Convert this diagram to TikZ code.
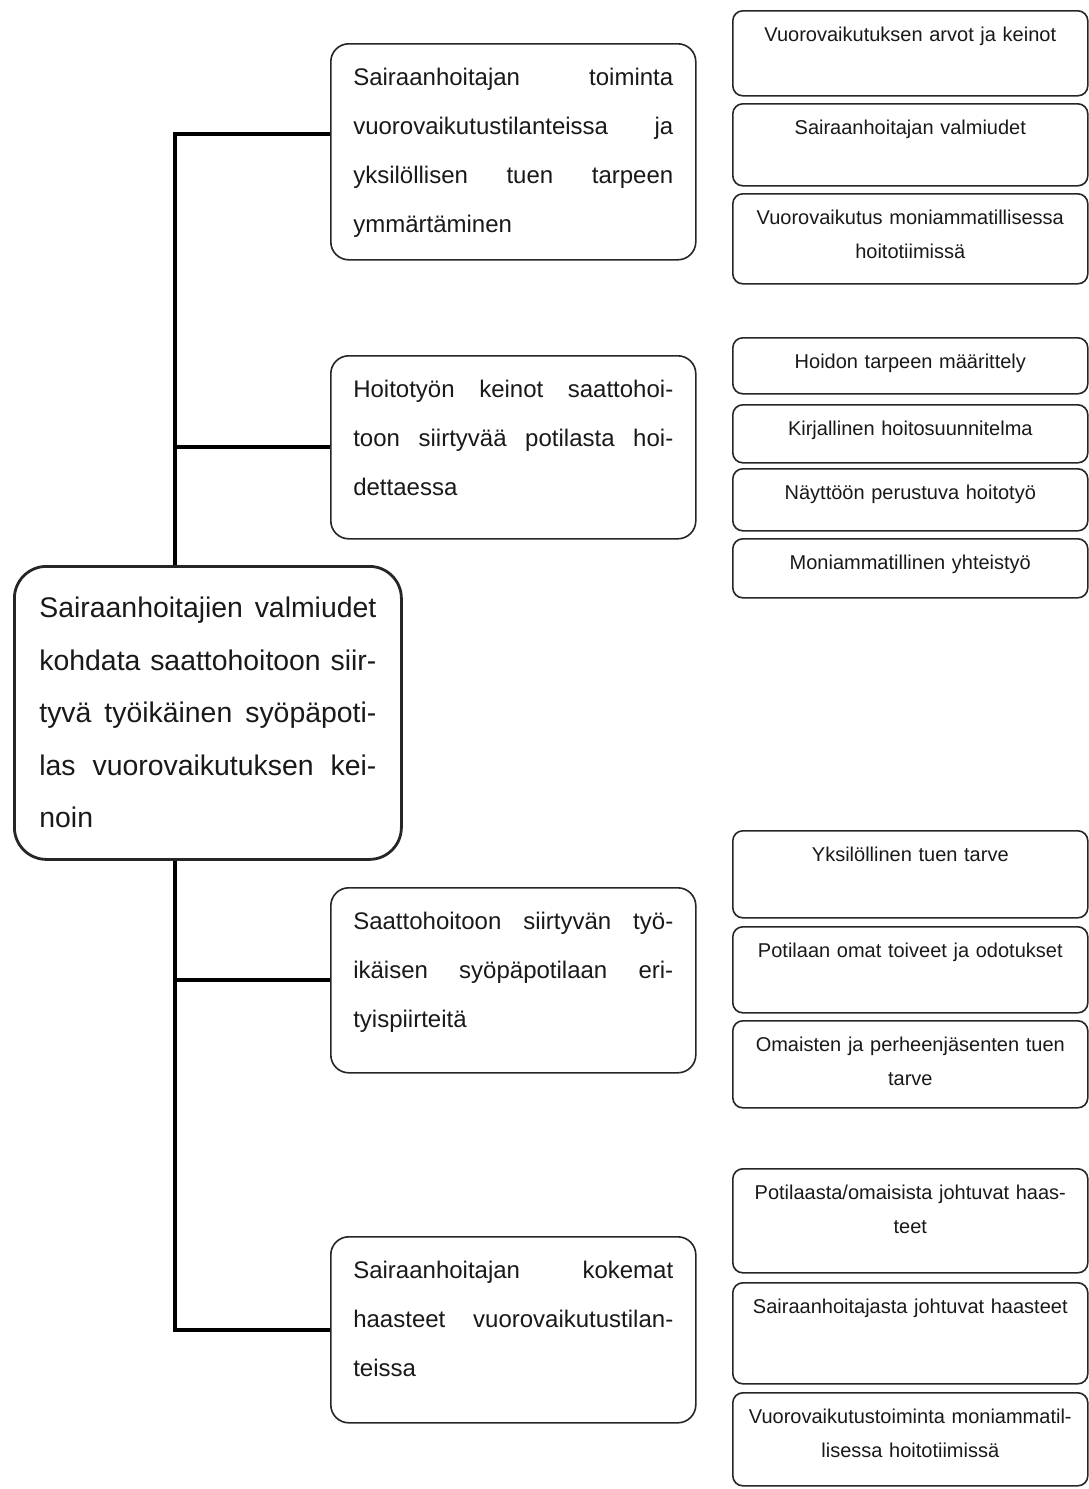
\documentclass[tikz,border=0pt]{standalone}
\usepackage{fontspec}
\setmainfont{Liberation Sans}
\usetikzlibrary{positioning}

\tikzset{
  box/.style={draw=black!85, line width=0.8pt, fill=white, inner sep=0pt, anchor=north west},
  mainbox/.style={box, line width=1.4pt, rounded corners=16pt, minimum width=193.5pt, minimum height=146.5pt},
  midbox/.style={box, rounded corners=9pt, minimum width=182.5pt},
  subbox/.style={box, rounded corners=5pt, minimum width=177.5pt},
  maintext/.style={inner sep=0pt, text width=168.5pt, align=justify, text=black!90,
    font={\fontsize{14.2}{26.25}\selectfont\tolerance=10000\hyphenpenalty=10000}},
  midtext/.style={inner sep=0pt, text width=160pt, align=justify, text=black!90,
    font={\fontsize{12}{24.5}\selectfont\tolerance=10000\hyphenpenalty=10000}},
  subtext/.style={inner sep=0pt, text width=172pt, align=center, text=black!90,
    font={\fontsize{10}{17}\selectfont}},
  branch/.style={line width=2pt}
}

\begin{document}
\begin{tikzpicture}[x=0.5pt, y=-0.5pt]
  \useasboundingbox (0,0) rectangle (1088,1489);

  % main topic
  \node[mainbox] (main) at (13,565) {};
  \node[maintext, below=16pt of main.north] (maint) {Sairaanhoitajien valmiudet\linebreak kohdata saattohoitoon siir-\linebreak tyvä työikäinen syöpäpoti-\linebreak las vuorovaikutuksen kei-\linebreak noin};

  % middle column
  \node[midbox, minimum height=108pt] (mid1) at (330,43) {};
  \node[midtext, below=12.5pt of mid1.north] (mid1t) {Sairaanhoitajan toiminta\linebreak vuorovaikutustilanteissa ja\linebreak yksilöllisen tuen tarpeen\linebreak ymmärtäminen};
  \node[midbox, minimum height=91.5pt] (mid2) at (330,355) {};
  \node[midtext, below=12.5pt of mid2.north] (mid2t) {Hoitotyön keinot saattohoi-\linebreak toon siirtyvää potilasta hoi-\linebreak dettaessa};
  \node[midbox, minimum height=92.5pt] (mid3) at (330,887) {};
  \node[midtext, below=12.5pt of mid3.north] (mid3t) {Saattohoitoon siirtyvän työ-\linebreak ikäisen syöpäpotilaan eri-\linebreak tyispiirteitä};
  \node[midbox, minimum height=93pt] (mid4) at (330,1236) {};
  \node[midtext, below=12.5pt of mid4.north] (mid4t) {Sairaanhoitajan kokemat\linebreak haasteet vuorovaikutustilan-\linebreak teissa};

  % right column
  \node[subbox, minimum height=42.5pt] (s1) at (732,10) {};
  \node[subtext, below=8.5pt of s1.north] (s1t) {Vuorovaikutuksen arvot ja keinot};
  \node[subbox, minimum height=41pt] (s2) at (732,103) {};
  \node[subtext, below=8.5pt of s2.north] (s2t) {Sairaanhoitajan valmiudet};
  \node[subbox, minimum height=45pt] (s3) at (732,193) {};
  \node[subtext, below=8.5pt of s3.north] (s3t) {Vuorovaikutus moniammatillisessa\\hoitotiimissä};
  \node[subbox, minimum height=28pt] (s4) at (732,337) {};
  \node[subtext, below=8.5pt of s4.north] (s4t) {Hoidon tarpeen määrittely};
  \node[subbox, minimum height=29pt] (s5) at (732,404) {};
  \node[subtext, below=8.5pt of s5.north] (s5t) {Kirjallinen hoitosuunnitelma};
  \node[subbox, minimum height=31pt] (s6) at (732,468) {};
  \node[subtext, below=8.5pt of s6.north] (s6t) {Näyttöön perustuva hoitotyö};
  \node[subbox, minimum height=29.5pt] (s7) at (732,538) {};
  \node[subtext, below=8.5pt of s7.north] (s7t) {Moniammatillinen yhteistyö};
  \node[subbox, minimum height=43.5pt] (s8) at (732,830) {};
  \node[subtext, below=8.5pt of s8.north] (s8t) {Yksilöllinen tuen tarve};
  \node[subbox, minimum height=43pt] (s9) at (732,926) {};
  \node[subtext, below=8.5pt of s9.north] (s9t) {Potilaan omat toiveet ja odotukset};
  \node[subbox, minimum height=43.5pt] (s10) at (732,1020) {};
  \node[subtext, below=8.5pt of s10.north] (s10t) {Omaisten ja perheenjäsenten tuen\\tarve};
  \node[subbox, minimum height=52pt] (s11) at (732,1168) {};
  \node[subtext, below=8.5pt of s11.north] (s11t) {Potilaasta/omaisista johtuvat haas-\\teet};
  \node[subbox, minimum height=50.5pt] (s12) at (732,1282) {};
  \node[subtext, below=8.5pt of s12.north] (s12t) {Sairaanhoitajasta johtuvat haasteet};
  \node[subbox, minimum height=46.5pt] (s13) at (732,1392) {};
  \node[subtext, below=8.5pt of s13.north] (s13t) {Vuorovaikutustoiminta moniammatil-\\lisessa hoitotiimissä};

  % spine and branches
  \coordinate (spine) at (175,0);
  \draw[branch] (spine |- main.north) |- ([yshift=9pt]mid1.west);
  \draw[branch] (spine |- main.north) |- (mid2.west);
  \draw[branch] (spine |- main.south) |- (mid3.west);
  \draw[branch] (spine |- main.south) |- (mid4.west);
\end{tikzpicture}
\end{document}
